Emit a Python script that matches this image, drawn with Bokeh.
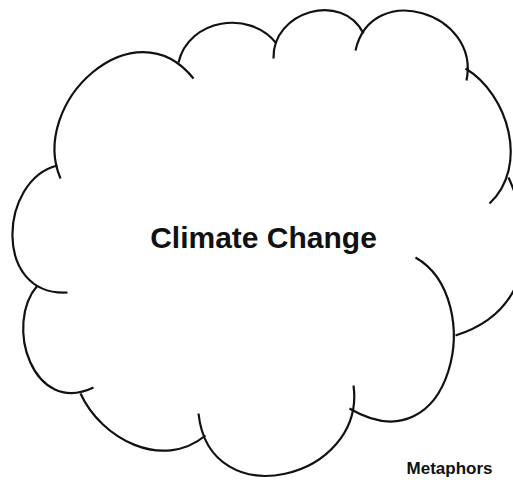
import numpy as np
from bokeh.plotting import figure
from bokeh.models import Range1d, ColumnDataSource
from bokeh.core.properties import value
from bokeh.embed import file_html
from bokeh.resources import INLINE

# Cloud outline: each bump traced by 4 points along it (start, ~1/3, ~2/3, end),
# in picture coordinates (x to the right, y downwards).
arc_names = ["A", "B", "C", "D", "E", "F", "G", "H", "I", "J", "K"]
p0_x = [60, 57, 178, 273, 355, 465, 508, 415, 353, 205, 93]
p0_y = [178, 165, 62, 58, 50, 68, 177, 257, 385, 435, 387]
q1_x = [67, 17, 202, 291, 394, 499, 524, 453, 321, 158, 44]
q1_y = [102, 205, 30, 21, 11, 106, 246, 328, 457, 450, 382]
q2_x = [125, 18, 241, 330, 447, 510, 506, 428, 246, 112, 23]
q2_y = [54, 264, 23, 10, 26, 157, 301, 405, 473, 432, 335]
p3_x = [193, 67, 276, 363, 466, 489, 455, 349, 198, 80, 37]
p3_y = [78, 292, 43, 33, 80, 203, 335, 408, 413, 393, 285]

labels = ["Climate Change", "Metaphors"]
label_x = [263, 449]
label_y = [237, 468]
label_size = ["30px", "17px"]

# cubic Bezier control points that make each curve pass through its 4 traced points
P0 = np.array([p0_x, p0_y], dtype=float)
Q1 = np.array([q1_x, q1_y], dtype=float)
Q2 = np.array([q2_x, q2_y], dtype=float)
P3 = np.array([p3_x, p3_y], dtype=float)
R1 = 27 * Q1 - 8 * P0 - P3
R2 = 27 * Q2 - P0 - 8 * P3
C1 = (2 * R1 - R2) / 18
C2 = (2 * R2 - R1) / 18

src = ColumnDataSource(dict(
    x0=P0[0], y0=P0[1], x1=P3[0], y1=P3[1],
    cx0=C1[0], cy0=C1[1], cx1=C2[0], cy1=C2[1], name=arc_names,
))

W, H = 513, 480
p = figure(width=W, height=H, output_backend="svg", toolbar_location=None,
           x_range=Range1d(0, W), y_range=Range1d(H, 0),
           x_axis_location=None, y_axis_location=None, min_border=0,
           background_fill_color="white", border_fill_color="white",
           outline_line_color=None)
p.grid.visible = False

p.bezier(x0="x0", y0="y0", x1="x1", y1="y1", cx0="cx0", cy0="cy0",
         cx1="cx1", cy1="cy1", source=src, line_color="#111111", line_width=2.2)

tsrc = ColumnDataSource(dict(x=label_x, y=label_y, text=labels, size=label_size))
p.text(x="x", y="y", text="text", source=tsrc, text_font=value("Liberation Sans"),
       text_font_style="bold", text_font_size="size", text_align="center",
       text_baseline="alphabetic", text_color="#111111")

open("out.html", "w").write(file_html(p, INLINE))
